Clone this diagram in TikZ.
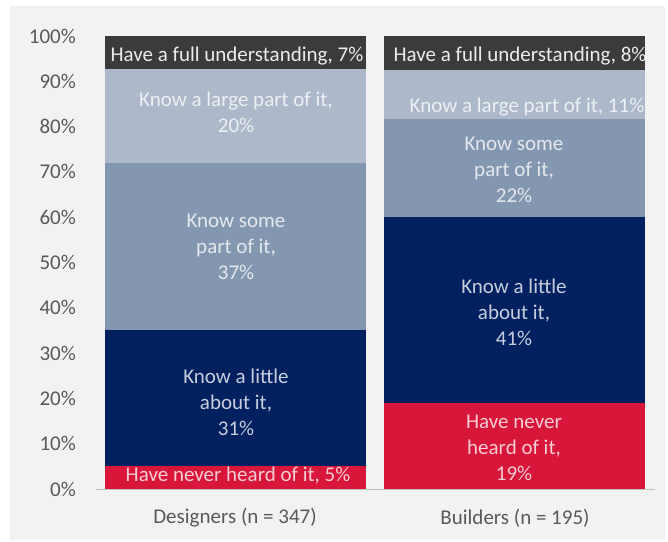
\documentclass[tikz,border=0pt]{standalone}
\usepackage{fontspec}
\setmainfont{Carlito}
\definecolor{full}{HTML}{3B3B3B}
\definecolor{large}{HTML}{ADB9CA}
\definecolor{some}{HTML}{8497B0}
\definecolor{little}{HTML}{002060}
\definecolor{never}{HTML}{D8163A}
\definecolor{axis}{HTML}{595959}
\begin{document}
\begin{tikzpicture}[x=1pt,y=-1pt,
	seg/.style={align=center,text=white,text opacity=0.78,font=\fontsize{21}{26}\selectfont,inner sep=0},
	tick/.style={anchor=east,text=axis,font=\fontsize{21}{26}\selectfont,inner sep=0},
	cat/.style={text=axis,font=\fontsize{21}{26}\selectfont,inner sep=0}]
	\useasboundingbox (0,0) rectangle (668,541);
	\fill[white] (0,0) rectangle (668,541);
	\fill[black!5] (10,6) rectangle (665,540);
	% designers
	\fill[never] (105,489) rectangle (366,466);
	\fill[little] (105,466) rectangle (366,330);
	\fill[some] (105,330) rectangle (366,163);
	\fill[large] (105,163) rectangle (366,69);
	\fill[full] (105,69) rectangle (366,36);
	% builders
	\fill[never] (384,489) rectangle (645,403);
	\fill[little] (384,403) rectangle (645,217);
	\fill[some] (384,217) rectangle (645,119);
	\fill[large] (384,119) rectangle (645,70);
	\fill[full] (384,70) rectangle (645,36);
	\draw[black!25] (96,489) -- (655,489);
	\foreach \p in {0,10,...,100}
		\node[tick] at (76,489-4.53*\p) {\p\%};
	\begin{scope}
		\clip (105,36) rectangle (366,489);
		\node[seg,text opacity=0.9] (d5) at (237,56) {Have a full understanding, 7\%};
		\node[seg] (d4) at (236,112) {Know a large part of it,\\20\%};
		\node[seg] (d3) at (236,247) {Know some\\part of it,\\37\%};
		\node[seg] (d2) at (236,402) {Know a little\\about it,\\31\%};
		\node[seg] (d1) at (238,476) {Have never heard of it, 5\%};
	\end{scope}
	\begin{scope}
		\clip (384,36) rectangle (645,489);
		\node[seg,text opacity=0.9] (b5) at (520,56) {Have a full understanding, 8\%};
		\node[seg] (b4) at (527,107) {Know a large part of it, 11\%};
		\node[seg] (b3) at (514,170) {Know some\\part of it,\\22\%};
		\node[seg] (b2) at (514,312) {Know a little\\about it,\\41\%};
		\node[seg] (b1) at (514,448) {Have never\\heard of it,\\19\%};
	\end{scope}
	\node[cat] (des) at (235,518) {Designers (n = 347)};
	\node[cat] (bui) at (515,518) {Builders (n = 195)};
\end{tikzpicture}
\end{document}
